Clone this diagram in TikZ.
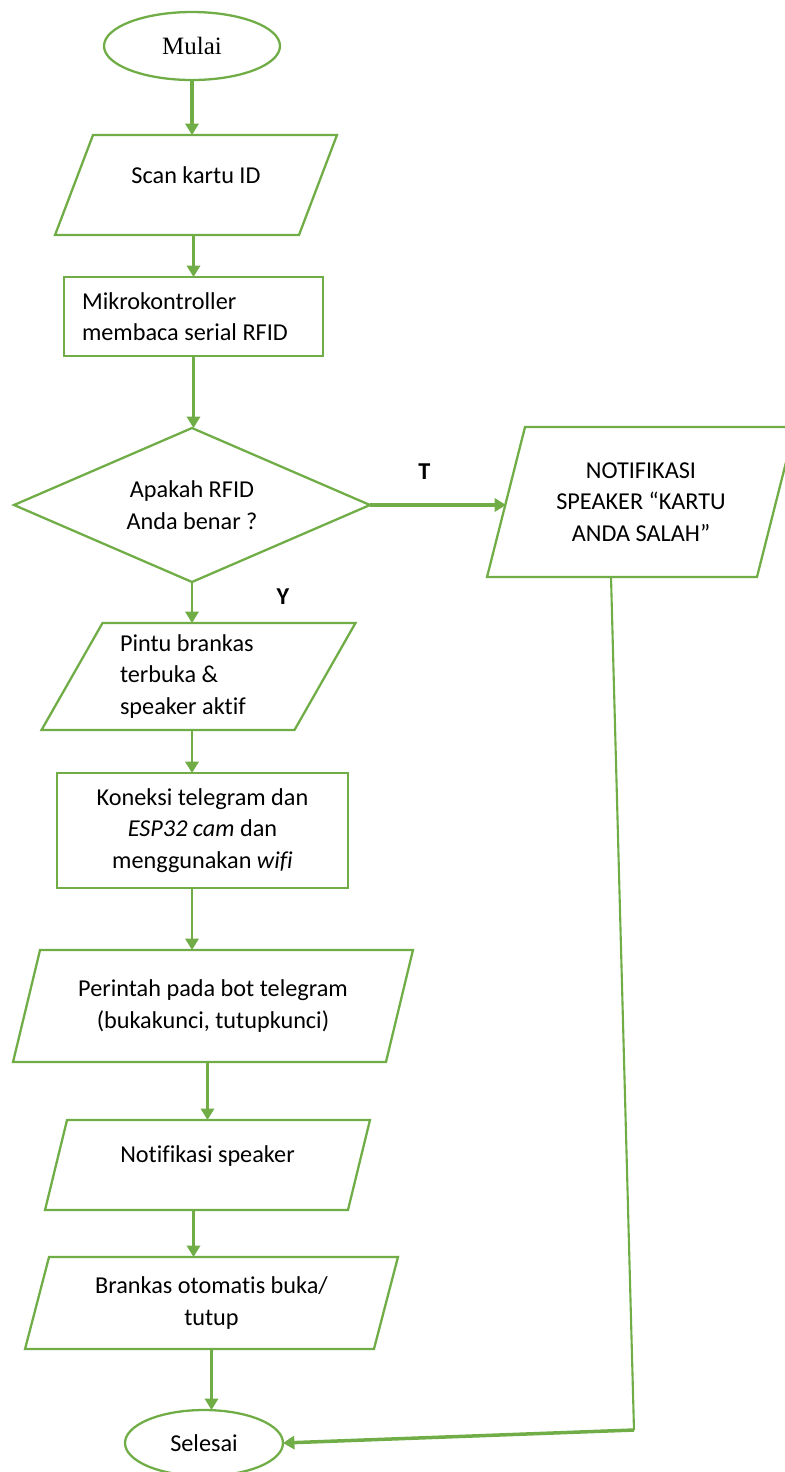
\documentclass[tikz,border=0pt]{standalone}
\usepackage{fontspec}
\setmainfont{Carlito}[Ligatures=NoCommon]
\newfontfamily\timesfont{Liberation Serif}
\usetikzlibrary{shapes.geometric,arrows.meta}
\definecolor{flowgreen}{HTML}{70AD47}
\newcommand{\paraframe}[2]{\draw[frame] ([xshift=#2]#1.north west) -- ([xshift=#2]#1.north east) -- ([xshift=-#2]#1.south east) -- ([xshift=-#2]#1.south west) -- cycle;}
\begin{document}
\begin{tikzpicture}[x=0.02cm,y=-0.02cm,
  every node/.style={font=\fontsize{13.8}{18}\selectfont},
  frame/.style={draw=flowgreen,line width=1.3pt,line join=miter},
  box/.style={frame,outer sep=0pt,inner sep=2pt,align=center},
  para/.style={outer sep=0pt,inner sep=2pt,align=center},
  term/.style={box,ellipse},
  arr/.style={draw=flowgreen,line width=1.6pt,-{Triangle[width=7.5pt,length=6.5pt]}},
  lbl/.style={font=\bfseries\fontsize{13.8}{15}\selectfont,inner sep=0pt}]
\useasboundingbox (0,0) rectangle (785,1472);
\node[term,minimum width=3.52cm,minimum height=1.36cm,font=\timesfont\fontsize{14.2}{16}\selectfont] (mulai) at (192,46) {Mulai};
\node[para,minimum width=4.88cm,minimum height=2cm,text depth=0.4cm] (scan) at (196,185) {Scan kartu ID}; \paraframe{scan}{0.38cm}
\node[box,minimum width=5.18cm,minimum height=1.58cm,text width=4.46cm,inner xsep=0.36cm,align=flush left] (mikro) at (193.5,316.5) {Mikrokontroller\\membaca serial RFID};
\node[box,diamond,aspect=2.31,inner sep=0pt,minimum width=7.12cm,minimum height=3.08cm] (cek) at (192,505) {Apakah RFID\\Anda benar ?};
\node[para,minimum width=5.4cm,minimum height=3cm] (notif) at (641,502) {NOTIFIKASI\\SPEAKER “KARTU\\ANDA SALAH”}; \paraframe{notif}{0.38cm}
\node[para,minimum width=5.06cm,minimum height=2.14cm,text width=3.14cm,inner xsep=0.96cm,align=flush left] (pintu) at (198.5,676.5) {Pintu brankas\\terbuka \&\\speaker aktif}; \paraframe{pintu}{0.61cm}
\node[box,minimum width=5.82cm,minimum height=2.3cm] (koneksi) at (202.5,830.5) {Koneksi telegram dan\\\textit{ESP32 cam} dan\\menggunakan \textit{wifi}};
\node[para,minimum width=7.46cm,minimum height=2.24cm] (perintah) at (213,1006) {Perintah pada bot telegram\\(bukakunci, tutupkunci)}; \paraframe{perintah}{0.27cm}
\node[para,minimum width=6.06cm,minimum height=1.8cm,text depth=0.42cm] (notifspk) at (207.5,1165) {Notifikasi speaker}; \paraframe{notifspk}{0.22cm}
\node[para,minimum width=6.98cm,minimum height=1.84cm] (brankas) at (211.5,1303) {Brankas otomatis buka/\\tutup}; \paraframe{brankas}{0.24cm}
\node[term,minimum width=3.16cm,minimum height=1.32cm] (selesai) at (204,1443) {Selesai};
\coordinate (turn) at (634,1430);
\draw[arr,line width=2pt] (mulai.south) -- (mulai.south |- scan.north);
\draw[arr] (mikro.north |- scan.south) -- (mikro.north);
\draw[arr] (mikro.south) -- (mikro.south |- cek.north);
\draw[arr,line width=2pt] (cek.east) -- (cek.east -| notif.west) node[lbl,pos=.4,yshift=0.66cm] {T};
\draw[arr] (cek.south) -- (cek.south |- pintu.north) node[lbl,pos=.35,xshift=1.82cm] {Y};
\draw[arr] (cek.south |- pintu.south) -- (cek.south |- koneksi.north);
\draw[arr] (cek.south |- koneksi.south) -- (cek.south |- perintah.north);
\draw[arr] (notifspk.north |- perintah.south) -- (notifspk.north);
\draw[arr] (mikro.north |- notifspk.south) -- (mikro.north |- brankas.north);
\draw[arr] (brankas.south) -- (brankas.south |- selesai.north);
\draw[flowgreen,line width=1.2pt] ([xshift=-0.6cm]notif.south) -- (turn);
\draw[arr,line width=2pt] (turn) -- (selesai.east);
\end{tikzpicture}
\end{document}
